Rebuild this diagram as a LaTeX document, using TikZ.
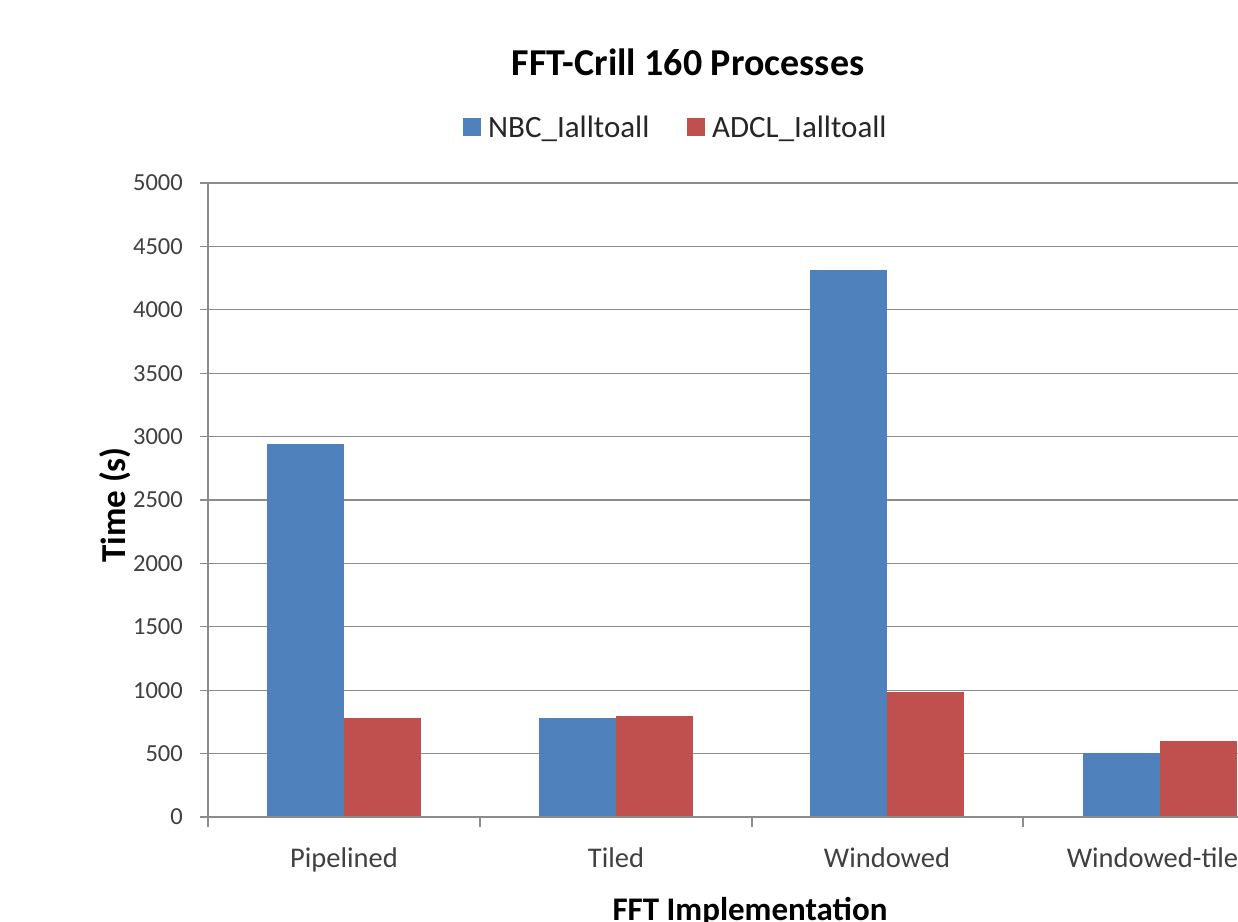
\documentclass[tikz,border=0pt]{standalone}
\usepackage{fontspec}
\setmainfont{Carlito}
\definecolor{nbcblue}{HTML}{4F81BD}
\definecolor{adclred}{HTML}{C0504D}
\definecolor{gridgray}{HTML}{8C8C8C}
\definecolor{txtgray}{HTML}{404040}
\begin{document}
\begin{tikzpicture}[x=1pt,y=-1pt,
  grid/.style={draw=gridgray,line width=1.2pt},
  axisline/.style={draw=gridgray,line width=1.2pt},
  nbcbar/.style={fill=nbcblue,draw=none},
  adclbar/.style={fill=adclred,draw=none},
  ticklab/.style={anchor=east,font=\fontsize{24.5}{24.5}\selectfont,text=txtgray,inner sep=0pt},
  catlab/.style={anchor=base,font=\fontsize{28.5}{28.5}\selectfont,text=txtgray,inner sep=0pt},
  legtext/.style={anchor=base west,font=\fontsize{31}{31}\selectfont,text=black!85,inner sep=0pt},
  legsq/.style={minimum size=18pt,inner sep=0pt,draw=none}
]
\useasboundingbox (0,0) rectangle (1238,921);
\fill[white] (0,0) rectangle (1238,921);
\begin{scope}
\clip (0,0) rectangle (1238,921);
% title
\node[anchor=base,font=\fontsize{38}{38}\selectfont\bfseries,inner sep=0pt] (title) at (688,75) {FFT-Crill 160 Processes};
% legend
\node[legsq,fill=nbcblue] (lsq1) at (472,127) {};
\node[legtext] (l1) at (488,137) {NBC\_Ialltoall};
\node[legsq,fill=adclred] (lsq2) at (696,127) {};
\node[legtext] (l2) at (712,137) {ADCL\_Ialltoall};
% gridlines and tick labels
\foreach \v in {500,1000,...,5000}{
  \draw[grid] (200,{817-0.1268*\v}) -- (1238,{817-0.1268*\v});
}
\foreach \v [count=\i] in {0,500,1000,...,5000}{
  \node[ticklab] (t\i) at (183,{817-0.1268*\v}) {\v};
}
% bars
\foreach \c/\a/\b [count=\i] in {344/2940/781, 616/781/797, 887/4314/984, 1160/505/600}{
  \fill[nbcbar] ({\c-77},817) rectangle (\c,{817-0.1268*\a});
  \fill[adclbar] (\c,817) rectangle ({\c+77},{817-0.1268*\b});
}
% axes
\coordinate (ytop) at (208,183);
\coordinate (orig) at (208,817);
\coordinate (xend) at (1238,817);
\draw[axisline] (ytop) -- (orig) -- (200,817);
\draw[axisline] (orig) -- (xend);
\draw[axisline] (208,817) -- (208,827);
\foreach \x in {480,752,1023}{
  \draw[axisline] (\x,817) -- (\x,827);
}
% category labels
\node[catlab] (c1) at (344,867) {Pipelined};
\node[catlab] (c2) at (616,867) {Tiled};
\node[catlab] (c3) at (887,867) {Windowed};
\node[catlab] (c4) at (1160,867) {Windowed-tiled};
% axis titles
\node[anchor=base,font=\fontsize{33}{33}\selectfont\bfseries,inner sep=0pt] (xt) at (750,920) {FFT Implementation};
\node[anchor=base,rotate=90,font=\fontsize{35}{35}\selectfont\bfseries,inner sep=0pt] (yt) at (125,505) {Time (s)};
\end{scope}
\end{tikzpicture}
\end{document}
